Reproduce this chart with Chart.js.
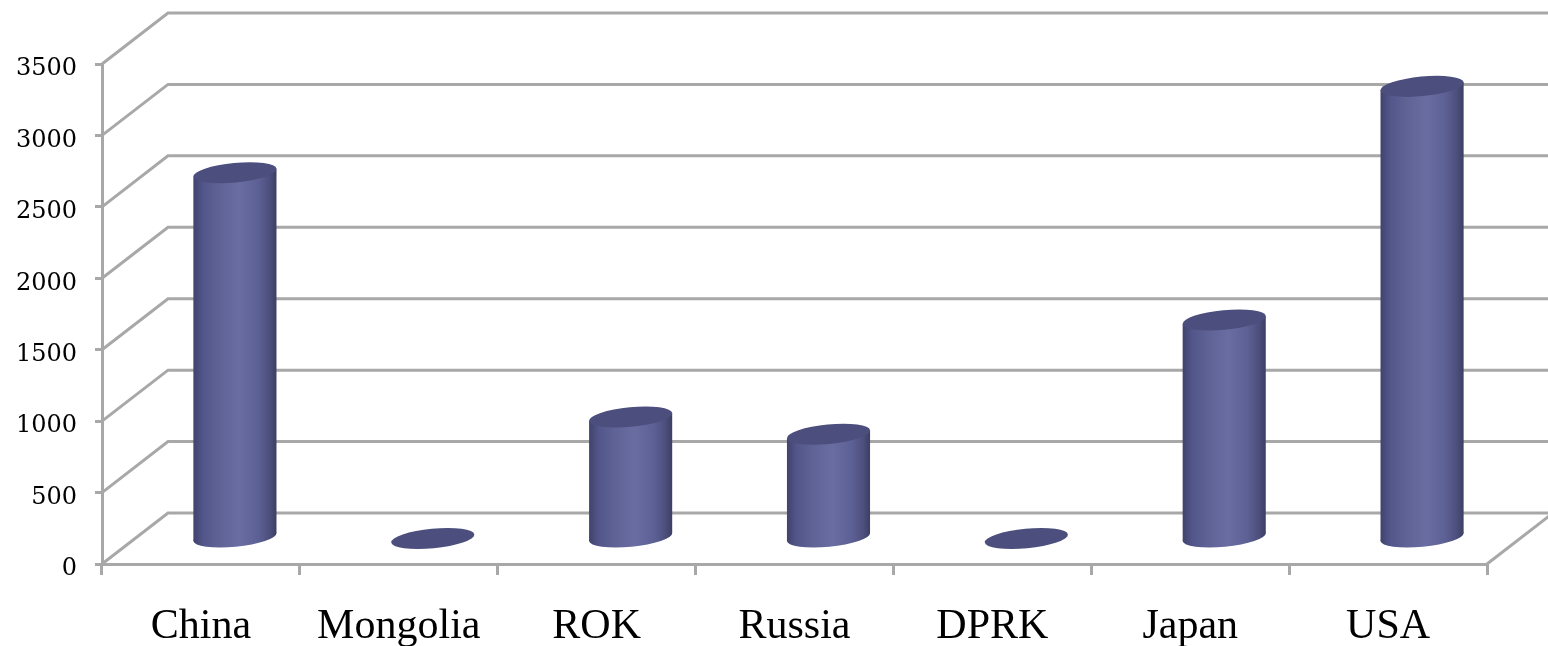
<!DOCTYPE html>
<html>
<head>
<meta charset="utf-8">
<title>Cylinder chart</title>
<script src="https://cdn.jsdelivr.net/npm/chart.js@4"></script>
<style>
  html, body { margin: 0; padding: 0; background: #fff; overflow: hidden; }
  canvas { display: block; }
</style>
</head>
<body>
<canvas id="chart" width="1548" height="646"></canvas>
<script>
const categories = ['China', 'Mongolia', 'ROK', 'Russia', 'DPRK', 'Japan', 'USA'];
const values = [2560, 0, 850, 730, 0, 1530, 3165];
const tickValues = [0, 500, 1000, 1500, 2000, 2500, 3000, 3500];

const lineColor = '#a8a8a8';
const capColor = '#4c4e7d';

// oblique offset of the back wall relative to the front axes
const depthX = 66;
const depthY = -51;

// back wall, floor and the diagonals joining them to the front axes
const wallPlugin = {
  id: 'wall',
  beforeDatasetsDraw(chart) {
    const { ctx, scales, chartArea } = chart;
    const y0 = scales.y.getPixelForValue(0);
    ctx.save();
    ctx.strokeStyle = lineColor;
    ctx.lineWidth = 3;
    tickValues.forEach(function(v) {
      const y = scales.y.getPixelForValue(v);
      ctx.beginPath();
      ctx.moveTo(chartArea.left, y);
      ctx.lineTo(chartArea.left + depthX, y + depthY);
      ctx.lineTo(chart.width + 10, y + depthY);
      ctx.stroke();
    });
    ctx.beginPath();
    ctx.moveTo(chartArea.right, y0);
    ctx.lineTo(chartArea.right + depthX, y0 + depthY);
    ctx.stroke();
    ctx.restore();
  }
};

function capPath(ctx, x, y, halfWidth) {
  ctx.beginPath();
  ctx.ellipse(x, y, halfWidth * 1.005, 9.8, -5.5 * Math.PI / 180, 0, Math.PI * 2);
}

// each bar is drawn as a cylinder sitting halfway into the depth
const cylinderPlugin = {
  id: 'cylinder',
  beforeDatasetDraw(chart, args) {
    const { ctx } = chart;
    args.meta.data.forEach(function(bar, i) {
      const x = bar.x + depthX / 2 + 1;
      const top = bar.y + depthY / 2;
      const base = bar.base + depthY / 2;
      const half = bar.width / 2;
      const slant = 4;

      const body = ctx.createLinearGradient(x - half, 0, x + half, 0);
      body.addColorStop(0, '#40436c');
      body.addColorStop(0.12, '#53568a');
      body.addColorStop(0.3, '#5f6295');
      body.addColorStop(0.55, '#6a6da1');
      body.addColorStop(0.78, '#5d6094');
      body.addColorStop(0.92, '#4c4f7c');
      body.addColorStop(1, '#3c3e63');

      ctx.save();
      ctx.fillStyle = body;
      if (values[i] > 0) {
        capPath(ctx, x, base, half);
        ctx.fill();
        ctx.beginPath();
        ctx.moveTo(x - half, top + slant);
        ctx.lineTo(x + half, top - slant);
        ctx.lineTo(x + half, base - slant);
        ctx.lineTo(x - half, base + slant);
        ctx.closePath();
        ctx.fill();
      }
      ctx.fillStyle = capColor;
      capPath(ctx, x, top, half);
      ctx.fill();
      ctx.restore();
    });
    return false;
  }
};

new Chart(document.getElementById('chart'), {
  type: 'bar',
  data: {
    labels: categories,
    datasets: [{
      data: values,
      backgroundColor: '#5f6295',
      barPercentage: 0.42,
      categoryPercentage: 1
    }]
  },
  plugins: [wallPlugin, cylinderPlugin],
  options: {
    responsive: false,
    animation: false,
    layout: { padding: { top: 64, right: 61, left: 0, bottom: 0 } },
    plugins: {
      legend: { display: false },
      tooltip: { enabled: false }
    },
    scales: {
      x: {
        afterFit(scale) { scale.height = 82; },
        grid: {
          drawOnChartArea: false,
          color: lineColor,
          lineWidth: 3,
          tickLength: 11
        },
        border: { color: lineColor, width: 3 },
        ticks: {
          color: '#000',
          padding: 27,
          maxRotation: 0,
          font: { family: '"Liberation Serif"', size: 42 }
        }
      },
      y: {
        min: 0,
        max: 3500,
        afterFit(scale) { scale.width = 102; },
        afterBuildTicks(scale) {
          scale.ticks = tickValues.map(function(v) { return { value: v }; });
        },
        grid: {
          drawOnChartArea: false,
          color: lineColor,
          lineWidth: 3,
          tickLength: 7
        },
        border: { color: lineColor, width: 3 },
        ticks: {
          color: '#000',
          padding: 18,
          labelOffset: 5,
          callback: function(v) { return String(v); },
          font: { family: '"DejaVu Serif"', size: 24 }
        }
      }
    }
  }
});
</script>
</body>
</html>
